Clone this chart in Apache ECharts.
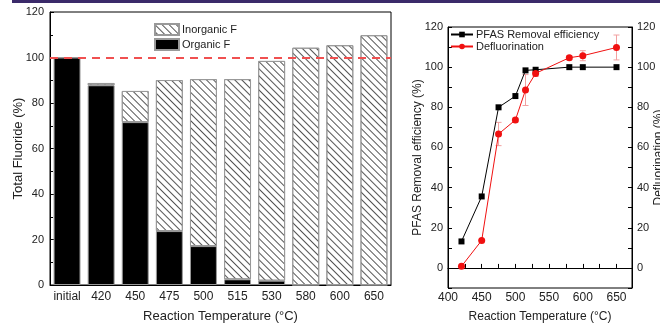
<!DOCTYPE html>
<html>
<head>
<meta charset="utf-8">
<script src="https://cdn.jsdelivr.net/npm/echarts@6.0.0/dist/echarts.min.js"></script>
<style>
  html, body { margin: 0; padding: 0; background: #fff; }
  #chart { width: 660px; height: 323px; }
</style>
</head>
<body>
<div id="chart"></div>
<script>
// left panel: fluorine balance
var categories = ['initial', '420', '450', '475', '500', '515', '530', '580', '600', '650'];
var organicF = [100, 87.8, 71.6, 23.7, 17.1, 2.5, 1.9, 0, 0, 0];
var inorganicF = [0, 1.0, 13.7, 66.4, 73.4, 88.0, 96.6, 104.3, 105.4, 109.8];

// right panel: removal / defluorination
var temps = [420, 450, 475, 500, 515, 530, 580, 600, 650];
var removal = [13.2, 35.6, 80.0, 85.6, 98.4, 98.7, 100, 100, 100];
var defluorination = [0.8, 13.7, 66.7, 73.7, 88.6, 96.9, 104.7, 105.7, 109.8];
var deflError = [0, 0, 5.8, 1, 7.7, 1.5, 1, 2.5, 6.2];

var font = 'Liberation Sans, Arial, sans-serif';
var txt = '#222';

function pairs(xs, ys) {
    return xs.map(function (x, i) { return [x, ys[i]]; });
}

var myChart = echarts.init(document.getElementById('chart'));

myChart.setOption({
    animation: false,
    textStyle: { fontFamily: font, color: txt },
    graphic: [{
        type: 'rect',
        shape: { x: 12, y: 0, width: 648, height: 3 },
        style: { fill: '#3b2a6a' }
    }],
    legend: [
        {
            data: [{ name: 'Inorganic F', icon: 'rect' }, { name: 'Organic F', icon: 'rect' }],
            orient: 'vertical',
            left: 154, top: 23, padding: 0,
            itemWidth: 24, itemHeight: 11, itemGap: 2,
            textStyle: { fontSize: 11, color: txt, padding: [0, 0, 0, -2] }
        },
        {
            data: ['PFAS Removal efficiency', 'Defluorination'],
            orient: 'vertical',
            left: 450, top: 29, padding: 0,
            itemWidth: 22, itemHeight: 7, itemGap: 1,
            textStyle: { fontSize: 11, color: txt, padding: [0, 0, 0, -2] }
        }
    ],
    grid: [
        { left: 50, top: 12, width: 341, height: 273, outerBoundsMode: 'none', show: true, borderColor: '#000', borderWidth: 1 },
        { left: 448, top: 27, width: 184, height: 261, outerBoundsMode: 'none', show: true, borderColor: '#000', borderWidth: 1 }
    ],
    xAxis: [
        {
            type: 'category', gridIndex: 0, data: categories,
            axisLine: { lineStyle: { color: '#000' } },
            axisTick: { inside: true, alignWithLabel: true, length: 4, lineStyle: { color: '#000' } },
            axisLabel: { fontSize: 12, color: txt, margin: 6, interval: 0 },
            name: 'Reaction Temperature (°C)', nameLocation: 'middle', nameGap: 25, nameMoveOverlap: false,
            nameTextStyle: { fontSize: 13, color: txt }
        },
        {
            type: 'category', gridIndex: 0, data: categories, position: 'bottom',
            axisLine: { show: false },
            axisTick: { inside: true, length: 2, interval: 0, lineStyle: { color: '#000' } },
            axisLabel: { show: false }
        },
        {
            type: 'value', gridIndex: 1, min: 400, max: 673, interval: 25,
            splitLine: { show: false },
            axisLine: { lineStyle: { color: '#000' } },
            axisTick: { inside: true, length: 4, lineStyle: { color: '#000' } },
            axisLabel: {
                fontSize: 12, color: txt, margin: 4,
                formatter: function (v) { return v % 50 === 0 ? v : ''; }
            },
            name: 'Reaction Temperature (°C)', nameLocation: 'middle', nameGap: 23, nameMoveOverlap: false,
            nameTextStyle: { fontSize: 12, color: txt }
        }
    ],
    yAxis: [
        {
            type: 'value', gridIndex: 0, min: 0, max: 120, interval: 20,
            splitLine: { show: false },
            axisLine: { show: true, lineStyle: { color: '#000' } },
            axisTick: { show: true, inside: true, length: 4, lineStyle: { color: '#000' } },
            minorTick: { show: true, splitNumber: 2, length: 3, lineStyle: { color: '#000' } },
            axisLabel: { fontSize: 11, color: txt, margin: 6 },
            name: 'Total Fluoride (%)', nameLocation: 'middle', nameGap: 25, nameRotate: 90, nameMoveOverlap: false,
            nameTextStyle: { fontSize: 13, color: txt }
        },
        {
            type: 'value', gridIndex: 1, min: -10, max: 120, interval: 10,
            splitLine: { show: false },
            axisLine: { show: true, lineStyle: { color: '#000' } },
            axisTick: { show: true, inside: true, length: 4, lineStyle: { color: '#000' } },
            axisLabel: {
                fontSize: 11, color: txt, margin: 5,
                formatter: function (v) { return v % 20 === 0 ? v : ''; }
            },
            name: 'PFAS Removal efficiency (%)', nameLocation: 'middle', nameGap: 24, nameRotate: 90, nameMoveOverlap: false,
            nameTextStyle: { fontSize: 12, color: txt }
        },
        {
            type: 'value', gridIndex: 1, min: -10, max: 120, interval: 10, position: 'right',
            splitLine: { show: false },
            axisLine: { show: true, lineStyle: { color: '#000' } },
            axisTick: { show: true, inside: true, length: 4, lineStyle: { color: '#000' } },
            axisLabel: {
                fontSize: 11, color: txt, margin: 5,
                formatter: function (v) { return v % 20 === 0 ? v : ''; }
            },
            name: 'Defluorination (%)', nameLocation: 'middle', nameGap: 21, nameRotate: 90, nameMoveOverlap: false,
            nameTextStyle: { fontSize: 12, color: txt }
        }
    ],
    series: [
        {
            name: 'Organic F', type: 'bar', stack: 'total',
            xAxisIndex: 0, yAxisIndex: 0, barWidth: '79%',
            itemStyle: { color: '#000', borderColor: '#999', borderWidth: 1 },
            data: organicF,
            markLine: {
                silent: true, symbol: ['none', 'none'], label: { show: false },
                lineStyle: { color: '#f05050', width: 2, type: [8, 6] },
                data: [{ yAxis: 100 }]
            }
        },
        {
            name: 'Inorganic F', type: 'bar', stack: 'total',
            xAxisIndex: 0, yAxisIndex: 0, barWidth: '79%',
            itemStyle: {
                color: '#fff', borderColor: '#999', borderWidth: 1,
                decal: {
                    symbol: 'rect', symbolSize: 1, color: '#555',
                    dashArrayX: [1, 0], dashArrayY: [1, 4],
                    rotation: Math.PI / 4
                }
            },
            data: inorganicF
        },
        {
            name: 'PFAS Removal efficiency', type: 'line',
            xAxisIndex: 2, yAxisIndex: 1,
            symbol: 'rect', symbolSize: 6,
            itemStyle: { color: '#000' },
            lineStyle: { color: '#000', width: 1 },
            data: pairs(temps, removal)
        },
        {
            name: 'Defluorination', type: 'line',
            xAxisIndex: 2, yAxisIndex: 1,
            symbol: 'circle', symbolSize: 7,
            itemStyle: { color: '#f01010' },
            lineStyle: { color: '#f01010', width: 1 },
            data: pairs(temps, defluorination),
            z: 3
        },
        {
            // error bars for defluorination
            type: 'custom', xAxisIndex: 2, yAxisIndex: 1, z: 2,
            renderItem: function (params, api) {
                var x = api.value(0), y = api.value(1), e = api.value(2);
                if (!e) return;
                var hi = api.coord([x, y + e]);
                var lo = api.coord([x, y - e]);
                var w = 3;
                var st = { stroke: '#f2a0a0', lineWidth: 1 };
                return {
                    type: 'group',
                    children: [
                        { type: 'line', shape: { x1: hi[0], y1: hi[1], x2: lo[0], y2: lo[1] }, style: st },
                        { type: 'line', shape: { x1: hi[0] - w, y1: hi[1], x2: hi[0] + w, y2: hi[1] }, style: st },
                        { type: 'line', shape: { x1: lo[0] - w, y1: lo[1], x2: lo[0] + w, y2: lo[1] }, style: st }
                    ]
                };
            },
            data: temps.map(function (t, i) { return [t, defluorination[i], deflError[i]]; })
        }
    ]
});
</script>
</body>
</html>
